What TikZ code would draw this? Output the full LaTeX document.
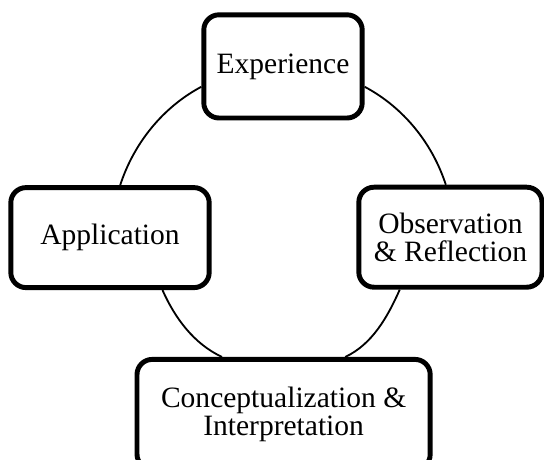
\documentclass[tikz,border=0pt]{standalone}
\usepackage{fontspec}
\setmainfont{Liberation Serif}
\begin{document}
\begin{tikzpicture}[
        stage/.style={draw,line width=3.5pt,rounded corners=0.38cm,fill=white,align=center,
            inner sep=2pt,minimum height=2.5cm,font=\fontsize{21}{20}\selectfont},
        cyc/.style={line width=1.3pt,looseness=0.88}]
        \useasboundingbox (0,0) rectangle (13.6,-11.475);
        \node[stage,minimum width=3.96cm,minimum height=2.58cm] (exp) at (7.075,-1.66) {Experience};
        \node[stage,minimum width=4.96cm] (app) at (2.75,-5.94) {Application};
        \node[stage,minimum width=4.58cm] (obs) at (11.26,-5.93) {Observation\\\& Reflection};
        \node[stage,minimum width=7.33cm,minimum height=2.75cm] (con) at (7.09,-10.36) {Conceptualization \&\\Interpretation};
        \draw[cyc] (exp.194) to[out=208,in=72] (app.79);
        \draw[cyc] (exp.-14) to[out=-28,in=108] (obs.95);
        \draw[cyc] (obs.226) to[out=-114,in=25] (con.43);
        \draw[cyc] (app.-45) to[out=-66,in=155] (con.137);
    \end{tikzpicture}
\end{document}
